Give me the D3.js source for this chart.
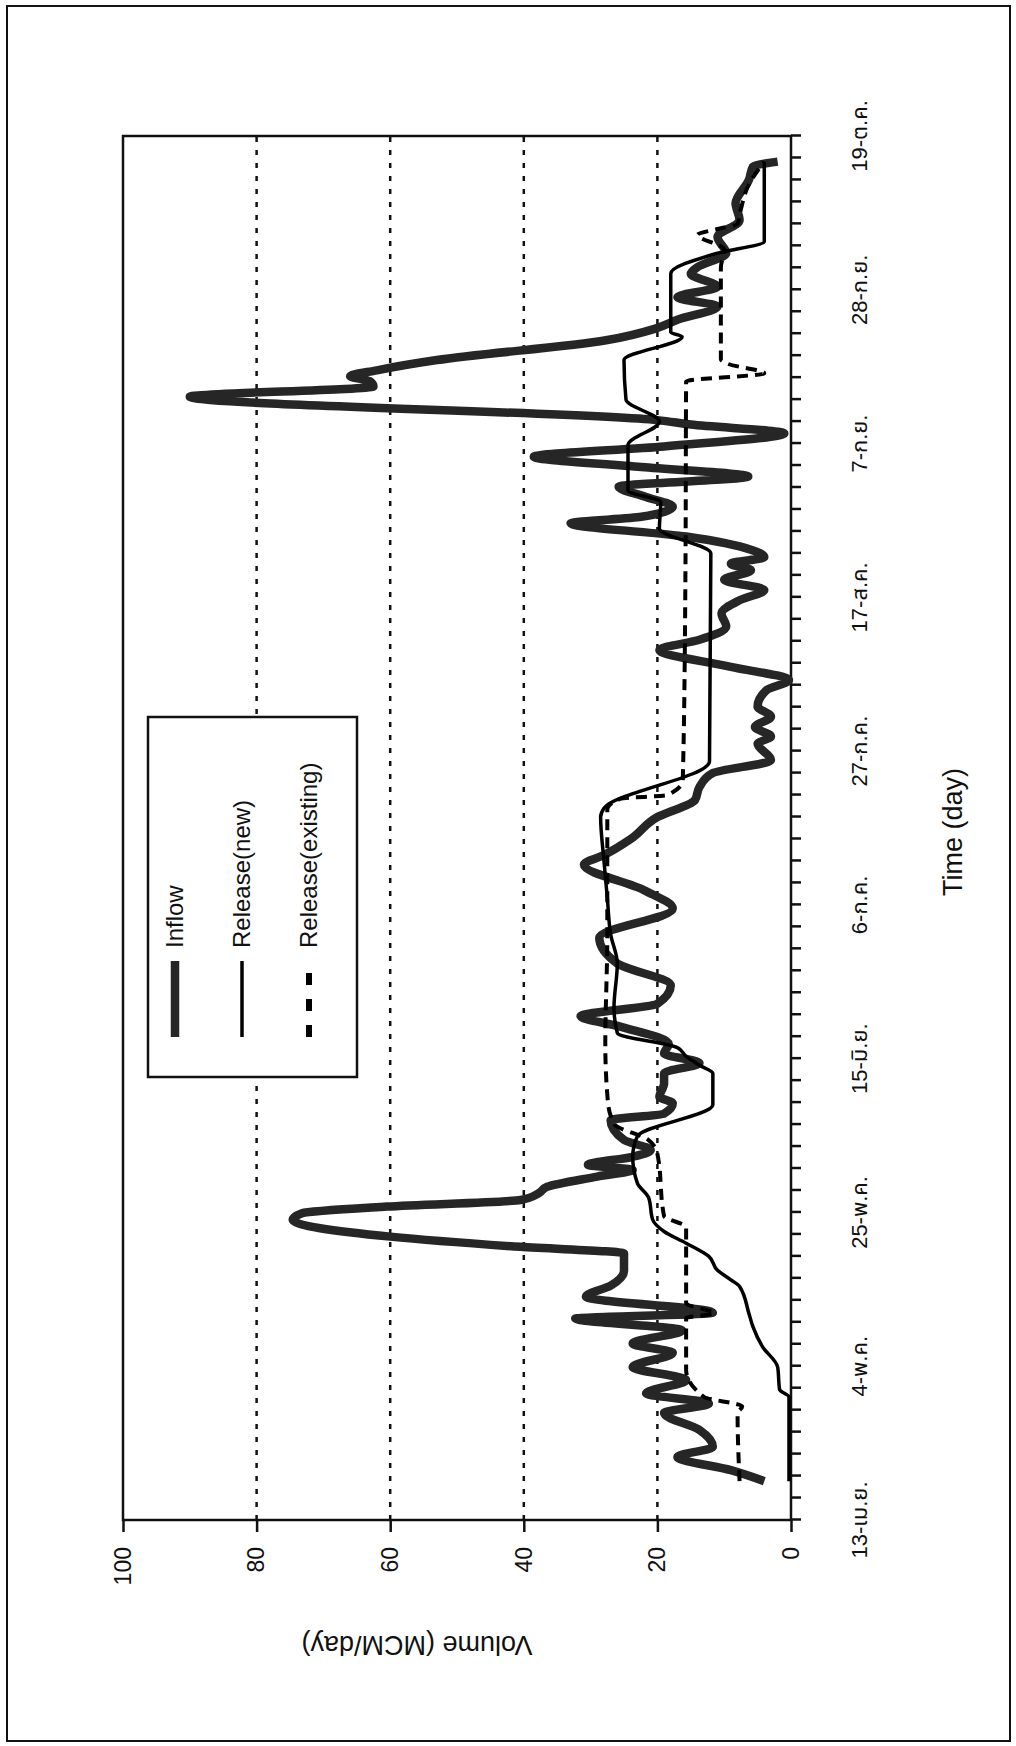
<!DOCTYPE html>
<html>
<head>
<meta charset="utf-8">
<script src="https://cdn.jsdelivr.net/npm/d3@7/dist/d3.min.js"></script>
<style>
  body { margin: 0; background: #fff; }
  svg { display: block; }
  text { font-family: "Liberation Sans", Arial, "Noto Sans Thai", sans-serif; fill: #111; }
</style>
</head>
<body>
<script>
// day numbers count from 13 April
var dateDays = [0, 21, 42, 63, 84, 105, 126, 147, 168, 189];
var dateLabels = ["13-เม.ย.", "4-พ.ค.", "25-พ.ค.", "15-มิ.ย.", "6-ก.ค.", "27-ก.ค.", "17-ส.ค.", "7-ก.ย.", "28-ก.ย.", "19-ต.ค."];
var volumeTicks = [0, 20, 40, 60, 80, 100];
var gridValues = [20, 40, 60, 80];
var seriesNames = ["Inflow", "Release(new)", "Release(existing)"];

// [day, MCM/day]
var inflow = [
  [5.3, 4], [6.8, 9], [8.6, 17], [10, 11.7], [12.3, 13.7], [14.6, 19], [15.9, 12.3],
  [17.3, 21.7], [19.1, 15.7], [20.9, 23.7], [22.8, 17.7], [24.1, 23.7], [25.9, 16.3],
  [27.5, 32.3], [28.3, 11.7], [30.5, 30.7], [32, 27], [34, 25], [36.4, 25], [37.3, 40.5],
  [38.7, 60], [41, 74.6], [41.9, 73.2], [42.8, 60.5], [43.7, 40.5], [44.6, 37.8],
  [45.5, 36.5], [46.9, 29], [47.8, 23.7], [48.5, 30.4], [49.6, 23.7], [50.5, 21],
  [51.9, 25], [54.6, 27], [55.5, 19], [56.9, 17.7], [57.8, 19.7], [59.6, 19], [61, 19],
  [62.4, 13.7], [63.7, 19], [65, 18.3], [67.4, 25.7], [68.8, 31.5], [70.5, 20], [73, 18],
  [76, 26], [79.5, 28.7], [83.5, 17.7], [86, 22], [89.5, 31], [90.8, 28], [93, 24],
  [96, 20], [98.3, 14.4], [100.1, 13.7], [102, 11.7], [103.8, 3], [106, 5], [107, 3],
  [108.3, 5.4], [109.7, 3], [111.1, 5], [113.3, 3.7], [114.7, 0.3], [116.5, 9],
  [118.8, 19.7], [120.2, 13.7], [122, 9.7], [123.8, 10.4], [125.6, 7.7], [127, 4],
  [128.4, 10], [129.7, 6], [130.6, 9], [131.5, 4], [132.5, 6], [134.3, 15.7], [136.1, 33],
  [137, 22.4], [138.4, 17.7], [139.7, 21.7], [141.1, 25.8], [142.5, 6.4], [143.8, 22.4],
  [145.2, 38.5], [146.6, 19], [148.4, 1], [149.6, 15], [150.2, 20], [153.4, 90],
  [154.8, 62.5], [155.5, 63], [156.2, 66], [157, 62], [158.4, 53], [161.1, 27.7],
  [162.7, 20.3], [163.9, 17], [165.7, 11], [167, 17], [168.4, 11], [170.2, 15], [171.1, 14],
  [173, 9.7], [175.2, 11], [177.5, 7.7], [179.8, 8.3], [183, 6.3], [184.8, 5.7], [185.5, 2]
];

var releaseNew = [
  [5.3, 0.3], [16.8, 0.3], [17.8, 1.7], [20.9, 2], [23.7, 4.3], [26.4, 5.7], [28.2, 6.3],
  [31.9, 7.7], [32.8, 9], [34.1, 11], [36, 12.3], [37.8, 15.7], [39.4, 19], [41, 20.7],
  [44, 21.3], [46, 23], [49.6, 23.7], [52.4, 23], [56.7, 11.7], [61, 11.7], [62.1, 13.7],
  [63.3, 15.7], [64.5, 17], [66.5, 26], [70, 26.5], [76, 26], [80, 27], [85, 27.5],
  [90, 28], [96, 28.5], [97.2, 28], [103.6, 12.2], [132, 12], [135.4, 19.7], [139, 19.5],
  [140.6, 24.4], [146.8, 24.4], [150, 19.7], [153, 24.7], [158.4, 25], [161.6, 16.3],
  [162.2, 18], [170.2, 18], [173, 11], [174.6, 4], [185.5, 4]
];

var releaseExisting = [
  [5.3, 7.7], [14.6, 8], [15.5, 7.3], [16.8, 13], [20.5, 15.7], [27.6, 15.7], [28.2, 11.5],
  [29.6, 15.7], [40, 15.7], [41.5, 19], [50, 20], [52, 21.5], [54, 26.4], [57, 27.4],
  [65, 27.8], [80, 27.5], [97, 27.5], [98.5, 25.5], [99, 18.5], [101, 16.2], [130, 15.8],
  [155.5, 15.7], [156.6, 4], [157.9, 9.5], [158.5, 10.5], [171, 10.5], [173.5, 10],
  [175.5, 14], [176.3, 11], [177, 8], [179, 7.5], [182, 6.5], [185.5, 4]
];

// the chart is printed turned a quarter turn, so it is drawn upright in g and rotated
var width = 1384,
  height = 668;

var svg = d3
  .select("body")
  .append("svg")
  .attr("width", 1016)
  .attr("height", 1746);

svg
  .append("rect")
  .attr("x", 7)
  .attr("y", 6)
  .attr("width", 1003)
  .attr("height", 1735)
  .attr("fill", "none")
  .attr("stroke", "#111")
  .attr("stroke-width", 2);

var g = svg
  .append("g")
  .attr("transform", "translate(123,1520) rotate(-90)");

var x = d3.scaleLinear().domain([0, 189]).range([0, width]);
var y = d3.scaleLinear().domain([0, 100]).range([height, 0]);

// dotted grid
g.selectAll(".grid")
  .data(gridValues)
  .enter()
  .append("line")
  .attr("class", "grid")
  .attr("x1", 0)
  .attr("x2", width)
  .attr("y1", function(d) { return y(d); })
  .attr("y2", function(d) { return y(d); })
  .attr("stroke", "#111")
  .attr("stroke-width", 2.5)
  .attr("stroke-dasharray", "5,8");

var xAxis = d3
  .axisBottom(x)
  .tickValues(d3.range(0, 190, 3))
  .tickSize(10)
  .tickFormat("");

var yAxis = d3
  .axisLeft(y)
  .tickValues(volumeTicks)
  .tickSize(12)
  .tickPadding(15);

var gx = g
  .append("g")
  .attr("transform", "translate(0," + height + ")")
  .call(xAxis);

var gy = g.append("g").call(yAxis);

[gx, gy].forEach(function(a) {
  a.select(".domain").remove();
  a.selectAll(".tick line").attr("stroke", "#111").attr("stroke-width", 2.5);
});
gy.selectAll(".tick text")
  .style("font-size", "23px")
  .style("font-family", "Liberation Sans, Arial, sans-serif");

g.append("rect")
  .attr("width", width)
  .attr("height", height)
  .attr("fill", "none")
  .attr("stroke", "#111")
  .attr("stroke-width", 2.5);

g.selectAll(".date")
  .data(dateLabels)
  .enter()
  .append("text")
  .attr("class", "date")
  .attr("x", function(d, i) { return x(dateDays[i]); })
  .attr("y", height + 60)
  .attr("dy", "0.71em")
  .style("text-anchor", "middle")
  .style("font-size", "22px")
  .text(function(d) { return d; });

g.append("text")
  .attr("x", 688)
  .attr("y", height + 171)
  .style("text-anchor", "middle")
  .style("font-size", "27px")
  .text("Time (day)");

g.append("text")
  .attr("transform", "translate(-116,294) rotate(-90)")
  .style("text-anchor", "middle")
  .style("font-size", "27px")
  .text("Volume (MCM/day)");

// smoothed like the printed lines, without overshooting flat runs
var line = d3
  .line()
  .curve(d3.curveMonotoneX)
  .x(function(d) { return x(d[0]); })
  .y(function(d) { return y(d[1]); });

var styles = [
  { data: inflow, color: "#262626", w: 8.5, dash: null },
  { data: releaseNew, color: "#000", w: 3.5, dash: null },
  { data: releaseExisting, color: "#000", w: 4, dash: "11,7" }
];

styles.forEach(function(s) {
  g.append("path")
    .datum(s.data)
    .attr("d", line)
    .attr("fill", "none")
    .attr("stroke", s.color)
    .attr("stroke-width", s.w)
    .attr("stroke-linejoin", "round")
    .attr("stroke-dasharray", s.dash);
});

// legend
var legend = g.append("g").attr("transform", "translate(443,25)");

legend
  .append("rect")
  .attr("width", 360)
  .attr("height", 209)
  .attr("fill", "#fff")
  .attr("stroke", "#111")
  .attr("stroke-width", 2.5);

var item = legend
  .selectAll(".item")
  .data(seriesNames)
  .enter()
  .append("g")
  .attr("class", "item")
  .attr("transform", function(d, i) {
    return "translate(0," + (27 + i * 67) + ")";
  });

item
  .append("line")
  .attr("x1", 40)
  .attr("x2", 116)
  .attr("stroke", function(d, i) { return styles[i].color; })
  .attr("stroke-width", function(d, i) { return i == 2 ? 6 : styles[i].w; })
  .attr("stroke-dasharray", function(d, i) { return i == 2 ? "12,14" : null; });

item
  .append("text")
  .attr("x", 129)
  .attr("dy", "0.35em")
  .style("font-size", "24px")
  .text(function(d) { return d; });
</script>
</body>
</html>
